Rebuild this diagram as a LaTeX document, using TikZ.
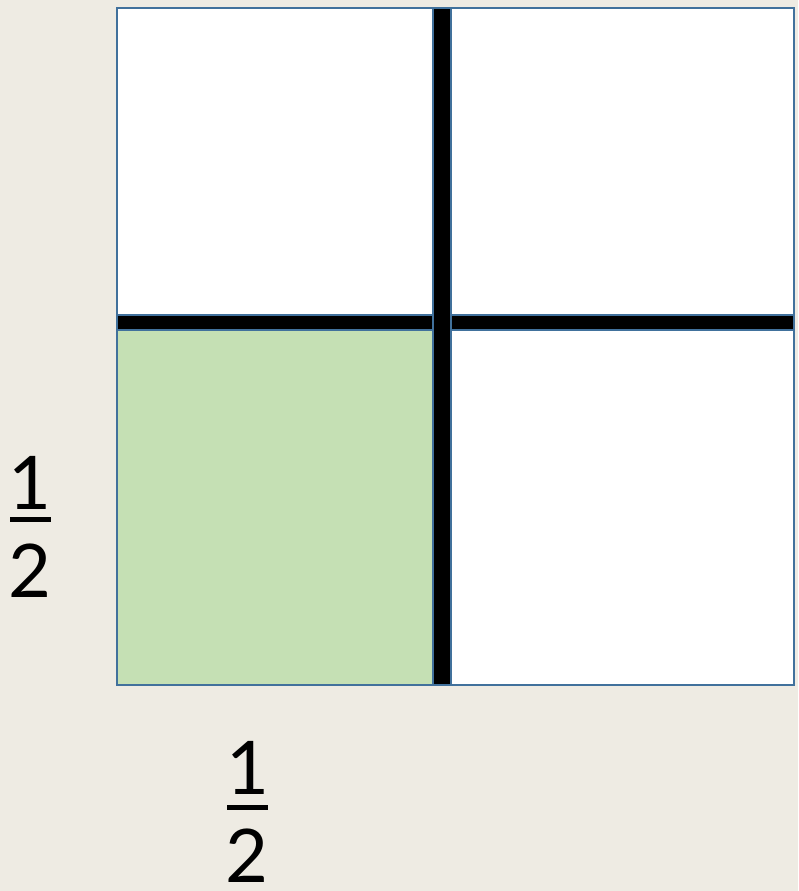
\documentclass[tikz,border=0pt]{standalone}
\usepackage{fontspec}
\setmainfont{Lato}
\definecolor{paper}{HTML}{EEEBE3}
\definecolor{cellgreen}{HTML}{C5E0B4}
\definecolor{cellline}{HTML}{41719C}
\begin{document}
\begin{tikzpicture}[x=1pt,y=-1pt,
  cell/.style={draw=cellline,line width=2pt},
  digit/.style={inner sep=0pt,font=\fontsize{74}{84}\selectfont}]
\fill[paper] (0,0) rectangle (798,891);
\useasboundingbox (0,0) rectangle (798,891);

\draw[cell,fill=white] (117,8) rectangle (433,315);
\draw[cell,fill=white] (451,8) rectangle (794,315);
\draw[cell,fill=cellgreen] (117,330) rectangle (433,685);
\draw[cell,fill=white] (451,330) rectangle (794,685);

\draw[cell,fill=black] (117,315) rectangle (794,330);
\draw[cell,fill=black] (433,8) rectangle (451,685);

\node[digit] (sideone) at (30,483) {1};
\node[digit] (sidetwo) at (30,571) {2};
\draw[line width=4.5pt] (10,519.5) -- (51,519.5);

\node[digit] (baseone) at (248,768) {1};
\node[digit] (basetwo) at (247,856) {2};
\draw[line width=4.5pt] (227,807.5) -- (268,807.5);
\end{tikzpicture}
\end{document}
